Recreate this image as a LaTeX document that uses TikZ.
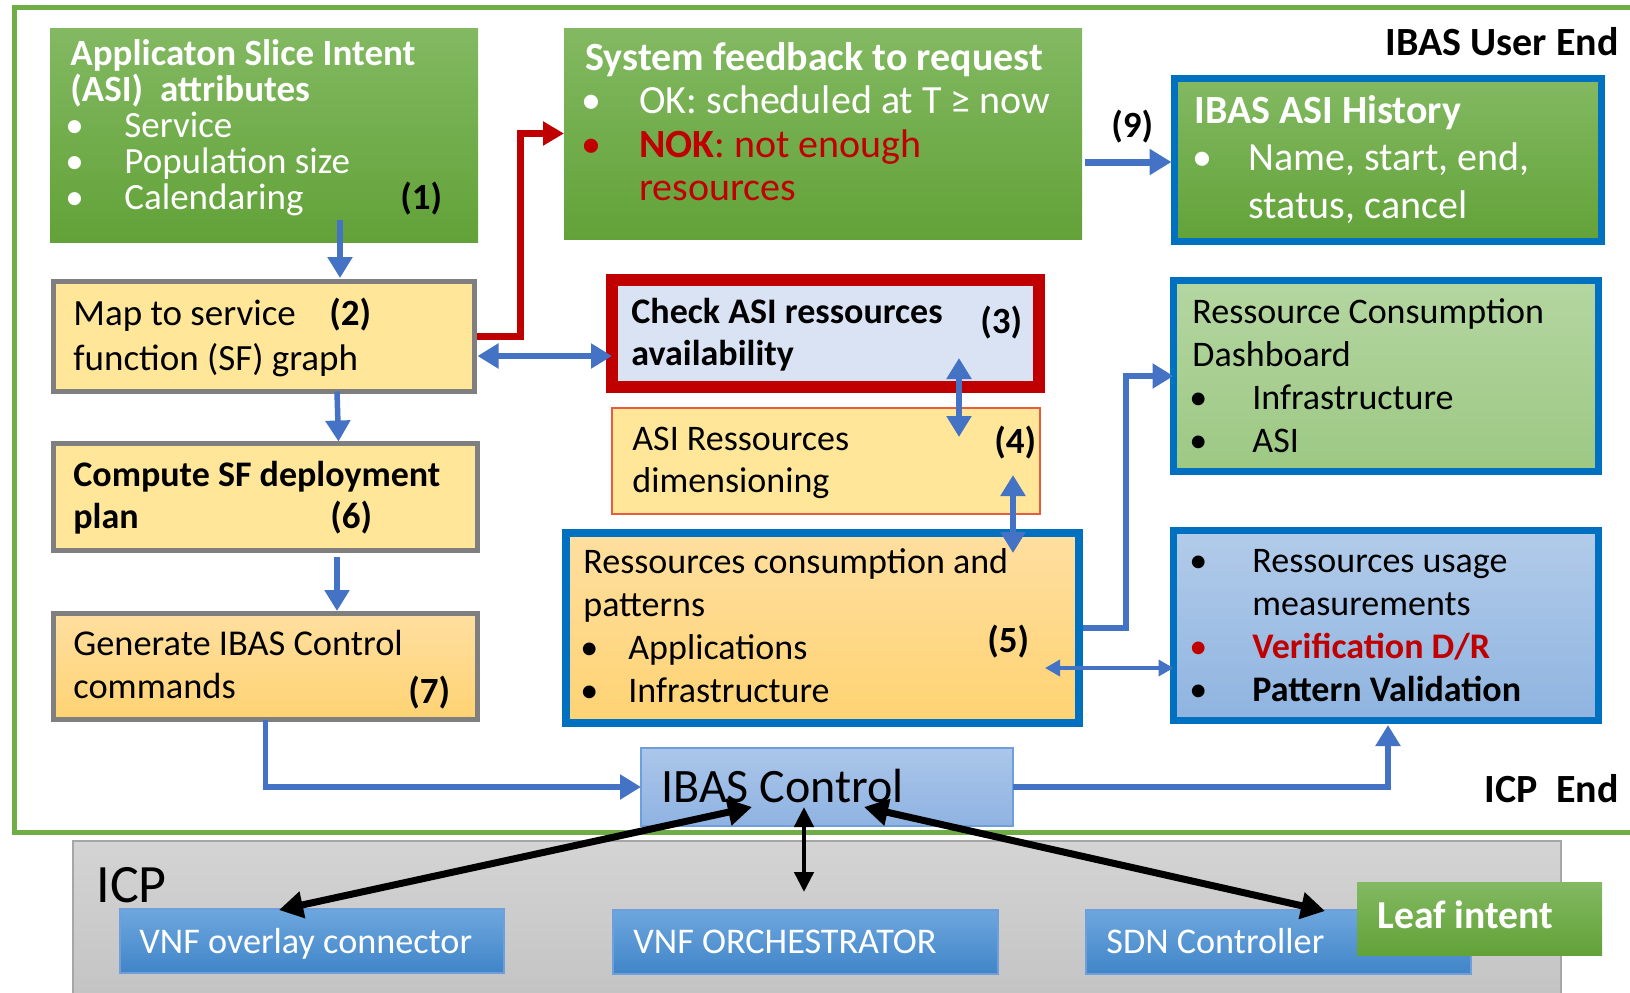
\documentclass[tikz,border=0pt]{standalone}
\usepackage{fontspec}
\setmainfont{Carlito}
\usetikzlibrary{calc}
\usetikzlibrary{arrows.meta}

\definecolor{grtop}{RGB}{131,185,98}
\definecolor{grbot}{RGB}{98,162,56}
\definecolor{frgreen}{RGB}{112,173,71}
\definecolor{yelfill}{RGB}{255,230,153}
\definecolor{orgtop}{RGB}{255,223,160}
\definecolor{orgbot}{RGB}{255,211,115}
\definecolor{grayline}{RGB}{127,127,127}
\definecolor{chkfill}{RGB}{218,227,243}
\definecolor{darkred}{RGB}{192,0,0}
\definecolor{dimline}{RGB}{232,92,62}
\definecolor{bborder}{RGB}{0,112,192}
\definecolor{dashtop}{RGB}{180,214,161}
\definecolor{dashbot}{RGB}{157,200,131}
\definecolor{usetop}{RGB}{178,203,233}
\definecolor{usebot}{RGB}{143,180,224}
\definecolor{ctltop}{RGB}{171,198,233}
\definecolor{ctlbot}{RGB}{143,179,226}
\definecolor{ctlline}{RGB}{110,159,219}
\definecolor{icptop}{RGB}{212,212,212}
\definecolor{icpbot}{RGB}{194,194,194}
\definecolor{icpline}{RGB}{166,166,166}
\definecolor{vnftop}{RGB}{110,167,222}
\definecolor{vnfbot}{RGB}{64,133,200}
\definecolor{arrblue}{RGB}{68,114,196}

\newcommand{\ftxt}[2]{\fontsize{#1}{#2}\selectfont\lineskiplimit=-50pt\relax}
\newcommand{\tstrut}{\rule{0pt}{20pt}}
\newcommand{\bul}[3][.]{\makebox[#2][l]{\color{#1}\textbullet}#3}

\tikzset{
	blockbox/.style={anchor=north west, inner sep=0pt, outer sep=0pt},
	boxsize/.style 2 args={minimum width=#1*0.5pt, minimum height=#2*0.5pt},
	greenbox/.style={blockbox, top color=grtop, bottom color=grbot},
	vnfbox/.style={blockbox, top color=vnftop, bottom color=vnfbot, draw=ctlline, line width=0.75pt},
	txt/.style={anchor=north west, inner sep=0pt, align=left},
	lbl/.style={anchor=base west, inner sep=0pt},
	num/.style={lbl, font=\ftxt{18.5}{21}\bfseries},
	barrow/.style={draw=arrblue, line width=2.75pt, -{Triangle[width=12pt,length=10.5pt]}},
	bdarrow/.style={draw=arrblue, line width=2.75pt, {Triangle[width=12pt,length=10.5pt]}-{Triangle[width=12pt,length=10.5pt]}},
	bthin/.style={draw=arrblue, line width=1.75pt, {Triangle[width=8pt,length=7.5pt]}-{Triangle[width=8pt,length=7.5pt]}},
	rarrow/.style={draw=darkred, line width=3.25pt, -{Triangle[width=11.5pt,length=10.5pt]}},
	karrow/.style={draw=black, line width=3.5pt, {Triangle[width=13pt,length=12pt]}-{Triangle[width=13pt,length=12pt]}},
	kthin/.style={draw=black, line width=2.25pt, {Triangle[width=9.5pt,length=10pt]}-{Triangle[width=9.5pt,length=10pt]}},
}

\begin{document}
\begin{tikzpicture}[x=0.5pt, y=-0.5pt]
		\useasboundingbox (0,0) rectangle (1630,992);
		
		% frames.....................
		\draw [draw=frgreen, line width=2.5pt] (14.5,7.5) rectangle (1660,832);
		\node [blockbox, boxsize={1488}{170}, top color=icptop, bottom color=icpbot, draw=icpline, line width=0.75pt] (icp) at (73,841) {};
		
		% boxes......................
		\node [greenbox, boxsize={428}{214}] (asi) at (50,28) {};
		\node [greenbox, boxsize={518}{211}] (feed) at (564,28) {};
		\node [greenbox, draw=bborder, line width=3.5pt, boxsize={427}{163}] (hist) at (1174.5,78.5) {};
		\node [blockbox, fill=yelfill, draw=grayline, line width=2.5pt, boxsize={421}{110}] (map) at (53.5,281.5) {};
		\node [blockbox, fill=chkfill, draw=darkred, line width=6pt, boxsize={427}{107}] (check) at (612,280) {};
		\node [blockbox, fill=yelfill, draw=dimline, line width=0.75pt, boxsize={428}{106}] (dim) at (612,408) {};
		\node [blockbox, top color=dashtop, bottom color=dashbot, draw=bborder, line width=3.5pt, boxsize={425}{191}] (dash) at (1173.5,280.5) {};
		\node [blockbox, fill=yelfill, draw=grayline, line width=2.5pt, boxsize={424}{107}] (comp) at (53.5,443.5) {};
		\node [blockbox, top color=orgtop, bottom color=orgbot, draw=bborder, line width=4pt, boxsize={513}{190}] (cons) at (566,533) {};
		\node [blockbox, top color=usetop, bottom color=usebot, draw=bborder, line width=3.5pt, boxsize={425}{190}] (usage) at (1173.5,530.5) {};
		\node [blockbox, top color=orgtop, bottom color=orgbot, draw=grayline, line width=2.5pt, boxsize={424}{106}] (gen) at (53.5,613.5) {};
		\node [blockbox, top color=ctltop, bottom color=ctlbot, draw=ctlline, line width=0.75pt, boxsize={372}{78}] (ctrl) at (641,748) {};
		\node [vnfbox, boxsize={384}{64}] (vnf1) at (120,909) {};
		\node [vnfbox, boxsize={385}{64}] (vnf2) at (613,910) {};
		\node [vnfbox, boxsize={385}{64}] (sdn) at (1086,910) {};
		\node [greenbox, boxsize={245}{73}] (leaf) at (1357,882) {};
		
		% box texts..................
		\node [txt, text=white, font=\ftxt{18.5}{18}] (asitxt) at (70,25) {\tstrut\textbf{Applicaton Slice Intent}\\ \textbf{(ASI)\ \ attributes}\\ \hspace*{-2.5pt}\bul{29.5pt}{Service}\\ \hspace*{-2.5pt}\bul{29.5pt}{Population size}\\ \hspace*{-2.5pt}\bul{29.5pt}{Calendaring}};
		\node [txt, text=white, font=\ftxt{20}{21.7}] (feedtxt) at (585,30) {\tstrut\textbf{System feedback to request}\\ \hspace*{-1.75pt}\bul{28.75pt}{OK: scheduled at T ≥ now}\\ \hspace*{-1.75pt}\bul[darkred]{28.75pt}{\textcolor{darkred}{\textbf{NOK}: not enough}}\\ \hspace*{27pt}\textcolor{darkred}{resources}};
		\node [txt, text=white, font=\ftxt{20}{23.7}] (histtxt) at (1194,83) {\tstrut\textbf{IBAS ASI History}\\ \hspace*{-1pt}\bul{28pt}{Name, start, end,}\\ \hspace*{27pt}status, cancel};
		\node [txt, font=\ftxt{18.5}{22.5}] (maptxt) at (73,285) {\tstrut Map to service\\ function (SF) graph};
		\node [txt, font=\ftxt{18}{21}\bfseries] (checktxt) at (631,283) {\tstrut Check ASI ressources\\ availability};
		\node [txt, font=\ftxt{18}{21}] (dimtxt) at (632,410) {\tstrut ASI Ressources\\ dimensioning};
		\node [txt, font=\ftxt{18}{21.5}] (dashtxt) at (1192,283) {\tstrut Ressource Consumption\\ Dashboard\\ \hspace*{-1.5pt}\bul{31.5pt}{Infrastructure}\\ \hspace*{-1.5pt}\bul{31.5pt}{ASI}};
		\node [txt, font=\ftxt{18}{21}\bfseries] (comptxt) at (73,446) {\tstrut Compute SF deployment\\ plan};
		\node [txt, font=\ftxt{18.2}{21.5}] (gentxt) at (73,615) {\tstrut Generate IBAS Control\\ commands};
		\node [txt, font=\ftxt{18}{21.5}] (constxt) at (583,533) {\tstrut Ressources consumption and\\ patterns\\ \hspace*{-1.5pt}\bul{24pt}{Applications}\\ \hspace*{-1.5pt}\bul{24pt}{Infrastructure}};
		\node [txt, font=\ftxt{18}{21.5}] (usagetxt) at (1197,532) {\tstrut\hspace*{-4pt}\bul{31.5pt}{Ressources usage}\\ \hspace*{27.5pt}measurements\\ \hspace*{-4pt}\bul[darkred]{31.5pt}{\textcolor{darkred}{\textbf{Verification D/R}}}\\ \hspace*{-4pt}\bul{31.5pt}{\textbf{Pattern Validation}}};
		\node [lbl, font=\ftxt{24}{28}] (ctrltxt) at (661,802) {IBAS Control};
		\node [lbl, font=\ftxt{27}{32}] (icptxt) at (96,902) {ICP};
		\node [lbl, text=white, font=\ftxt{18.1}{21}] (vnf1txt) at (139,953) {VNF overlay connector};
		\node [lbl, text=white, font=\ftxt{18.1}{21}] (vnf2txt) at (633,953) {VNF ORCHESTRATOR};
		\node [lbl, text=white, font=\ftxt{18.1}{21}] (sdntxt) at (1106,953) {SDN Controller};
		\node [lbl, text=white, font=\ftxt{19.8}{23}\bfseries] (leaftxt) at (1377,928) {Leaf intent};
		
		% side labels................
		\node [lbl, anchor=base east, font=\ftxt{20}{24}\bfseries] (userend) at (1619,55) {IBAS User End};
		\node [lbl, anchor=base east, font=\ftxt{20}{24}\bfseries] (icpend) at (1619,802) {ICP~~End};
		
		% step numbers...............
		\node [num] (n1) at (400,209) {(1)};
		\node [num] (n2) at (329,325) {(2)};
		\node [num] (n3) at (980,333) {(3)};
		\node [num] (n4) at (994,453) {(4)};
		\node [num] (n5) at (987,652) {(5)};
		\node [num] (n6) at (330,528) {(6)};
		\node [num] (n7) at (408,703) {(7)};
		\node [num] (n9) at (1111,137) {(9)};
		
		% blue connectors............
		\draw [barrow] ($(asi.south)+(76,-22)$) to ($(map.north)+(76,-3.5)$);
		\draw [barrow] ($(map.south)+(73,0)$) to ($(comp.north)+(73,-2)$);
		\draw [barrow] ($(comp.south)+(71.5,6.5)$) to ($(gen.north)+(71.5,-2.5)$);
		\draw [barrow] (gen.south) |- (ctrl.west);
		\draw [bdarrow] ($(map.east)+(3,19.5)$) to ($(check.west)+(0,22.5)$);
		\draw [bdarrow] ($(check.south)+(133.5,-29)$) to ($(dim.north)+(133,29)$);
		\draw [bdarrow] ($(dim.south)+(187,-39)$) to ($(cons.north)+(190.5,20)$);
		\draw [barrow] ($(cons.east)+(4,0)$) -- ++(43,0) |- (dash.west);
		\draw [bthin] ($(cons.east)+(-34,40)$) to ($(usage.west)+(0,42.5)$);
		\draw [barrow] (ctrl.east) -| ($(usage.south)+(2,4.5)$);
		\draw [barrow, line width=3.5pt, -{Triangle[width=12.5pt,length=11pt]}] ($(feed.east)+(3,28.5)$) to ($(hist.west)+(-3,2)$);
		
		% red connector..............
		\draw [rarrow] ($(map.east)+(2,0)$) -- ++(44,0) |- (feed.west);
		
		% ICP connectors.............
		\draw [karrow] ($(ctrl.south)+(-75,-19)$) to ($(vnf1.north)+(-33,1)$);
		\draw [kthin] ($(ctrl.south)+(-23,-19)$) to ($(vnf2.north)+(-1.5,-18)$);
		\draw [karrow] ($(ctrl.south)+(37,-19)$) to ($(sdn.north)+(46.5,1)$);
		
	\end{tikzpicture}
\end{document}
